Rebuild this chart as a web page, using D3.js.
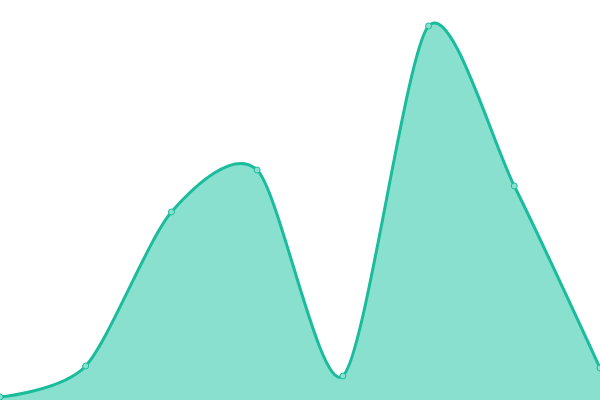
<!DOCTYPE html>
<html>
<head>
<meta charset="utf-8">
<script src="https://cdn.jsdelivr.net/npm/d3@7"></script>
<style>
  html, body { margin: 0; padding: 0; background: #fff; }
  #chart { width: 600px; height: 400px; }
</style>
</head>
<body>
<div id="chart"></div>
<script>
const categories = ["1", "2", "3", "4", "5", "6", "7", "8"];
const values = [3, 34, 188, 230, 24, 374, 214, 32];
const yDomain = [0, 400];

const width = 600;
const height = 400;

const svg = d3.select("#chart").append("svg")
  .attr("width", width)
  .attr("height", height);

const x = d3.scalePoint()
  .domain(categories)
  .range([0, width]);

const y = d3.scaleLinear()
  .domain(yDomain)
  .range([height, 0]);

const data = categories.map((c, i) => ({ cat: c, value: values[i] }));

const curve = d3.curveCardinal.tension(0.2);

// area fill
const area = d3.area()
  .x(d => x(d.cat))
  .y0(y(0))
  .y1(d => y(d.value))
  .curve(curve);

svg.append("path")
  .datum(data)
  .attr("d", area)
  .attr("fill", "#8ae0ce");

// line on top
const line = d3.line()
  .x(d => x(d.cat))
  .y(d => y(d.value))
  .curve(curve);

svg.append("path")
  .datum(data)
  .attr("d", line)
  .attr("fill", "none")
  .attr("stroke", "#1abc9c")
  .attr("stroke-width", 3);

// point markers
svg.selectAll("circle")
  .data(data)
  .enter()
  .append("circle")
  .attr("cx", d => x(d.cat))
  .attr("cy", d => y(d.value))
  .attr("r", 3)
  .attr("fill", "#8ae0ce")
  .attr("stroke", "#1abc9c")
  .attr("stroke-width", 1);
</script>
</body>
</html>
